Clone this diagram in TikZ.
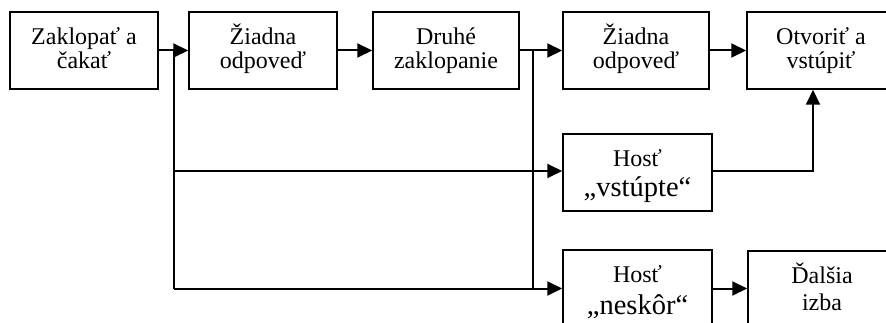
\documentclass[tikz,border=0pt]{standalone}
\usepackage{fontspec}
\setmainfont{Liberation Serif}
\usetikzlibrary{arrows.meta,calc}
% keep baselines at a fixed distance whatever the letters
\lineskiplimit=-50pt

\begin{document}
\begin{tikzpicture}[x=1pt,y=-1pt,
  box/.style={draw,line width=1.5pt,minimum width=148pt,minimum height=77pt,
    inner sep=0pt,align=center,text height=38.5pt,text depth=2.5pt,
    font=\fontsize{24}{23.5}\selectfont},
  hostbox/.style={box,text height=50pt,text depth=1.6pt},
  link/.style={line width=2pt},
  arr/.style={link,-{Triangle[length=15pt,width=14pt]}}]
\useasboundingbox (0,0) rectangle (886,323);
\clip (0,0) rectangle (886,323);

% main row
\node[box] (b1) at (84,50.5) {Zaklopať a\\čakať};
\node[box] (b2) at (263,50.5) {Žiadna\\odpoveď};
\node[box,minimum width=146pt] (b3) at (446,50.5) {Druhé\\zaklopanie};
\node[box,minimum width=146pt] (b4) at (636,50.5) {Žiadna\\odpoveď};
\node[box] (b5) at (821,50.5) {Otvoriť a\\vstúpiť};

% guest answers
\node[hostbox,minimum width=149pt] (h1) at (637.5,172.5)
  {Hosť\\[6.5pt]{\fontsize{28.5}{28}\selectfont „vstúpte“}};
\node[hostbox,minimum width=149pt,text height=53pt] (h2) at (637.5,288.5)
  {Hosť\\[8pt]{\fontsize{28.5}{28}\selectfont „neskôr“}};
\node[box,text height=44pt] (b6) at (822,289.5) {Ďalšia\\[3pt]izba};

% branch points
\coordinate (j1) at (174,50.5);
\coordinate (j2) at (533,50.5);
\coordinate (k1) at (813,171);

% connectors
\draw[arr] (b1.east) -- (b2.west);
\draw[arr] (b2.east) -- (b3.west);
\draw[arr] (b3.east) -- (b4.west);
\draw[arr] (b4.east) -- (b5.west);
\draw[link] (j1) -- (j1 |- h2.west);
\draw[link] (j2) -- (j2 |- h2.west);
\draw[arr] (j1 |- k1) -- (h1.west |- k1);
\draw[arr] (j1 |- h2.west) -- (h2.west);
\draw[arr] (h1.east |- k1) -- (k1) -- (k1 |- b5.south);
\draw[arr] (h2.east) -- (h2.east -| b6.west);
\end{tikzpicture}
\end{document}
